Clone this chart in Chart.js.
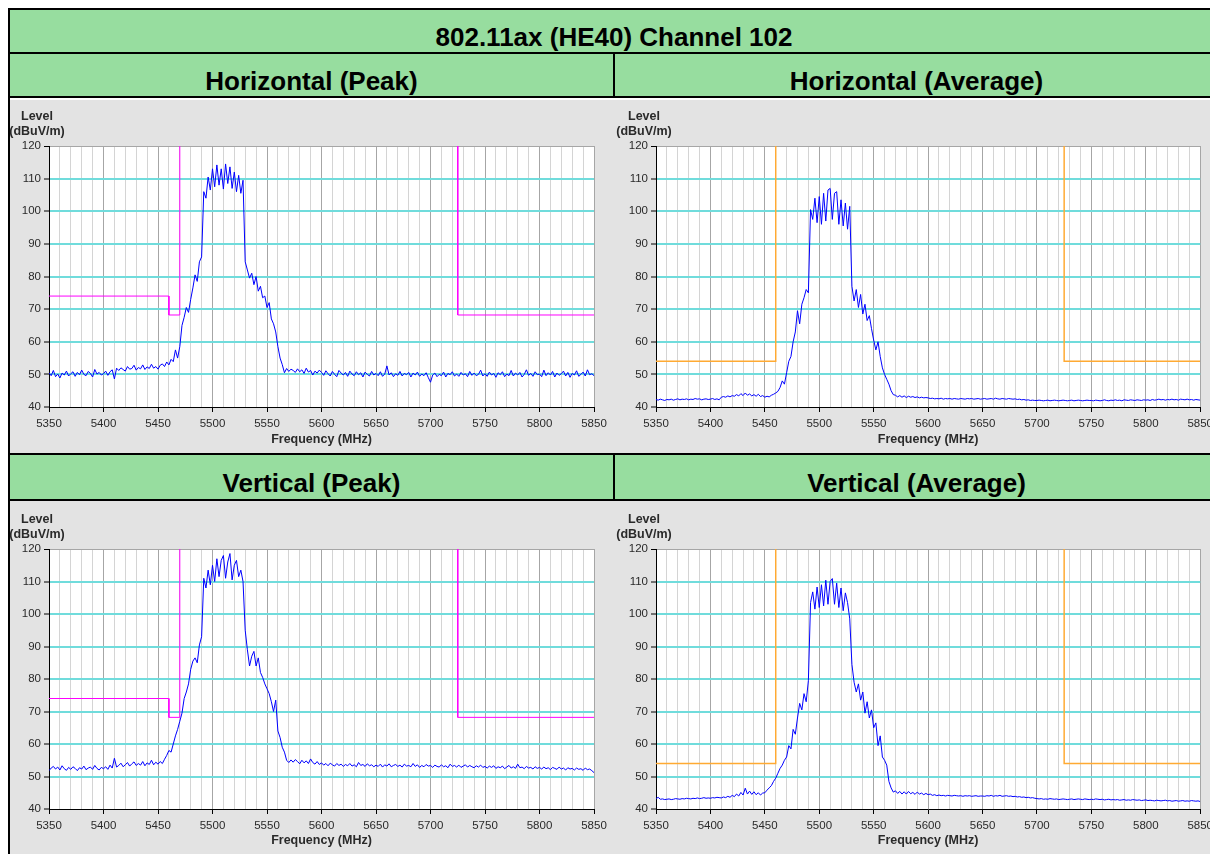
<!DOCTYPE html>
<html>
<head>
<meta charset="utf-8">
<title>802.11ax (HE40) Channel 102</title>
<script src="https://cdn.jsdelivr.net/npm/chart.js@4.4.1/dist/chart.umd.min.js"></script>
<style>
    body {
        margin: 0;
        width: 1210px;
        height: 854px;
        overflow: hidden;
        position: relative;
        background: #fff;
        font-family: "Liberation Sans", Arial, sans-serif;
    }
    .cell {
        position: absolute;
        box-sizing: border-box;
        border: 2px solid #000;
        background: #97dd9f;
        display: flex;
        align-items: center;
        justify-content: center;
        padding-top: 12px;
        font-weight: bold;
        font-size: 26px;
        color: #000;
    }
    .plot {
        position: absolute;
        background: #e3e3e3;
    }
    .plot canvas { display: block; }
    .edge {
        position: absolute;
        background: #000;
    }
</style>
</head>
<body>

<div class="cell" style="left:8px; top:8px; width:1212px; height:46px;">802.11ax (HE40) Channel 102</div>
<div class="cell" style="left:8px; top:52px; width:607px; height:46px;">Horizontal (Peak)</div>
<div class="cell" style="left:613px; top:52px; width:607px; height:46px;">Horizontal (Average)</div>
<div class="plot" style="left:10px; top:100px; width:605px; height:353px;"><canvas id="hPeakChart" width="605" height="353"></canvas></div>
<div class="plot" style="left:615px; top:100px; width:603px; height:353px;"><canvas id="hAvgChart" width="603" height="353"></canvas></div>
<div class="cell" style="left:8px; top:453px; width:607px; height:48px;">Vertical (Peak)</div>
<div class="cell" style="left:613px; top:453px; width:607px; height:48px;">Vertical (Average)</div>
<div class="plot" style="left:10px; top:501px; width:605px; height:353px;"><canvas id="vPeakChart" width="605" height="353"></canvas></div>
<div class="plot" style="left:615px; top:501px; width:603px; height:353px;"><canvas id="vAvgChart" width="603" height="353"></canvas></div>
<div class="edge" style="left:8px; top:8px; width:2px; height:846px;"></div>

<script>
    // Sweep: 5350 - 5850 MHz, one reading every 2 MHz
    const sweepStart = 5350;
    const sweepStep = 2;

    const freqMin = 5350, freqMax = 5850, freqGridStep = 10, freqLabelStep = 50;
    const levelMin = 40, levelMax = 120, levelStep = 10;

    // Horizontal, peak detector (dBuV/m)
    const hPeakLevel = [
        50.5, 49.6, 51.2, 49.3, 50.1, 48.9, 50.4, 49.8, 51.0, 49.5, 50.2, 50.8, 49.4, 50.6, 49.9, 51.3, 50.0, 49.6, 50.9, 50.3, 49.2, 51.5, 50.1, 50.6, 49.8,
        50.2, 51.0, 49.7, 50.8, 51.4, 48.6, 51.9, 51.2, 52.0, 51.5, 51.0, 52.4, 51.6, 51.8, 52.8, 51.3, 52.1, 51.7, 52.9, 51.5, 52.3, 51.8, 53.1, 51.9, 52.4,
        51.6, 52.8, 53.2, 52.4, 53.8, 52.9, 54.6, 53.9, 57.5, 55.0, 58.5, 65.0, 67.5, 70.5, 69.0, 73.0, 76.5, 80.5, 78.5, 84.5, 86.0, 106.0, 104.0, 110.5, 106.5,
        113.0, 107.5, 114.2, 108.0, 113.0, 106.8, 114.5, 108.5, 113.6, 107.0, 112.0, 106.0, 111.0, 105.5, 109.5, 84.5, 82.0, 79.5, 81.0, 77.5, 80.0, 75.5, 77.0, 73.5, 74.0,
        70.5, 72.0, 67.0, 65.5, 63.0, 58.5, 55.0, 53.0, 50.5, 51.8, 50.9, 51.6, 51.2, 50.6, 51.7, 50.8, 51.4, 50.3, 51.9, 50.7, 51.2, 49.8, 51.0, 50.4, 51.3,
        50.6, 49.7, 51.1, 50.2, 49.5, 50.9, 50.0, 49.3, 51.2, 50.4, 49.8, 50.6, 49.4, 51.0, 50.1, 49.6, 50.8, 49.9, 50.5, 49.2, 50.7, 50.0, 49.5, 50.9, 49.8,
        50.3, 49.6, 50.8, 49.4, 50.1, 52.6, 49.8, 50.5, 49.3, 50.2, 49.7, 50.9, 49.5, 50.3, 49.9, 50.6, 49.2, 50.4, 49.8, 50.7, 49.4, 50.1, 49.6, 50.5, 49.0,
        47.6, 49.8, 50.4, 49.3, 50.0, 49.6, 50.7, 49.2, 50.3, 49.9, 50.8, 49.5, 50.1, 49.4, 50.6, 49.8, 50.2, 49.3, 50.9, 49.7, 50.4, 49.6, 50.0, 51.3, 49.5,
        50.2, 49.4, 50.7, 49.8, 50.3, 49.1, 50.5, 49.9, 50.8, 49.3, 50.1, 49.6, 51.2, 49.5, 50.4, 49.8, 50.6, 49.2, 50.0, 51.4, 49.7, 50.3, 49.4, 50.8, 49.9,
        50.1, 49.3, 51.3, 49.6, 50.5, 49.8, 50.9, 49.2, 50.4, 49.7, 50.2, 51.0, 49.5, 50.6, 49.1, 50.3, 49.8, 51.1, 49.4, 50.0, 50.7, 49.5, 51.4, 49.9, 50.2, 49.6
    ];

    // Horizontal, average detector (dBuV/m)
    const hAvgLevel = [
        42.3, 42.1, 42.4, 42.2, 42.0, 42.3, 42.2, 42.4, 42.1, 42.3, 42.5, 42.2, 42.4, 42.3, 42.5, 42.2, 42.4, 42.3, 42.6, 42.4, 42.5, 42.2, 42.4, 42.5, 42.3,
        42.4, 42.6, 42.3, 42.5, 42.2, 43.0, 43.2, 43.0, 43.4, 43.1, 43.5, 43.3, 43.8, 43.4, 44.1, 43.5, 44.3, 43.6, 44.0, 43.4, 43.8, 43.3, 43.9, 43.2, 43.5,
        43.0, 43.3, 43.1, 43.6, 43.9, 44.3, 44.8, 46.0, 48.0, 47.0, 50.5, 54.0, 55.5, 60.0, 63.0, 69.5, 65.5, 71.5, 73.5, 76.0, 75.0, 100.5, 97.5, 104.0, 96.5,
        104.5, 96.0, 105.5, 97.0, 106.5, 107.0, 97.5, 105.5, 106.0, 96.0, 103.5, 95.5, 102.5, 94.5, 101.5, 77.0, 72.5, 76.0, 70.5, 74.5, 68.5, 71.5, 66.5, 68.0, 64.0,
        60.5, 57.5, 60.0, 55.5, 52.0, 50.0, 48.5, 47.0, 45.0, 43.8, 43.6, 43.1, 43.5, 43.0, 43.4, 42.9, 43.3, 43.0, 43.2, 42.9, 43.1, 42.8, 43.0, 42.8, 42.9,
        42.8, 42.6, 42.7, 42.5, 42.6, 42.5, 42.7, 42.4, 42.6, 42.5, 42.6, 42.4, 42.6, 42.5, 42.4, 42.6, 42.5, 42.4, 42.6, 42.5, 42.6, 42.4, 42.5, 42.6, 42.4,
        42.5, 42.6, 42.4, 42.5, 42.6, 42.4, 42.7, 42.5, 42.4, 42.6, 42.5, 42.4, 42.6, 42.5, 42.4, 42.5, 42.3, 42.4, 42.2, 42.3, 42.1, 42.2, 42.0, 42.1, 42.0,
        42.0, 42.1, 42.0, 41.9, 42.0, 42.1, 41.9, 42.0, 42.1, 42.0, 41.9, 42.0, 42.1, 42.0, 41.9, 42.0, 42.1, 41.9, 42.0, 42.1, 42.0, 41.9, 42.0, 42.1, 42.0,
        42.0, 41.9, 42.1, 42.0, 41.9, 42.0, 42.2, 42.0, 41.9, 42.1, 42.0, 42.2, 42.0, 42.1, 41.9, 42.2, 42.1, 42.0, 42.2, 42.1, 42.0, 42.2, 42.1, 42.0, 42.2,
        42.1, 42.2, 42.0, 42.3, 42.1, 42.2, 42.4, 42.2, 42.3, 42.1, 42.3, 42.2, 42.4, 42.2, 42.3, 42.1, 42.4, 42.3, 42.2, 42.4, 42.2, 42.3, 42.1, 42.3, 42.2, 42.1
    ];

    // Vertical, peak detector (dBuV/m)
    const vPeakLevel = [
        51.8, 52.6, 53.1, 52.3, 52.9, 52.0, 53.3, 52.4, 51.9, 52.8, 52.2, 53.0, 52.5, 51.8, 52.7, 52.3, 53.2, 52.1, 52.6, 52.9, 52.2, 53.4, 52.5, 52.0, 52.8,
        52.4, 53.0, 52.2, 53.5, 52.6, 55.6, 52.9, 53.4, 54.1, 53.0, 53.6, 54.3, 53.2, 53.9, 54.5, 53.4, 54.0, 53.5, 54.6, 53.3, 54.2, 53.7, 55.0, 53.6, 54.4,
        53.8, 54.6, 54.0, 55.3, 56.5, 58.0, 57.5, 60.0, 62.5, 64.5, 67.0, 69.5, 74.0, 76.0, 78.5, 83.0, 85.5, 86.5, 85.0, 90.5, 93.0, 111.0, 108.0, 113.5, 109.0,
        115.0, 110.0, 117.0, 111.5, 116.5, 118.0, 111.0, 116.0, 118.6, 110.5, 115.0, 116.5, 111.5, 113.5, 110.0, 95.0, 89.0, 84.0, 87.0, 88.5, 84.0, 86.5, 82.0, 80.5, 78.5,
        77.0, 75.5, 73.0, 70.0, 73.5, 64.0, 62.0, 59.0, 57.5, 55.0, 54.3, 55.1, 54.4, 55.2, 54.6, 53.9, 55.0, 54.2, 54.8, 54.0, 55.4, 54.3, 53.8, 54.6, 53.7,
        54.2, 53.5, 54.0, 53.3, 54.1, 53.6, 53.2, 54.0, 53.4, 53.8, 53.1, 53.7, 53.3, 54.0, 53.2, 53.6, 53.0, 54.3, 53.4, 53.7, 53.1, 53.9, 53.3, 53.6, 53.0,
        53.5, 53.1, 53.8, 52.9, 53.6, 53.2, 53.9, 53.0, 53.4, 53.7, 53.1, 53.5, 52.9, 53.8, 53.2, 53.4, 53.0, 54.0, 53.1, 53.6, 52.8, 53.4, 53.0, 53.7, 53.2,
        53.4, 52.8, 53.5, 53.1, 52.9, 53.6, 53.0, 53.3, 52.7, 53.8, 53.1, 53.4, 52.9, 53.5, 52.8, 53.2, 53.6, 52.9, 53.4, 53.0, 52.7, 53.3, 52.9, 53.5, 52.8,
        53.1, 52.6, 53.2, 52.8, 53.3, 52.5, 53.0, 52.7, 53.2, 52.4, 52.9, 53.4, 52.6, 53.0, 52.5, 53.8, 52.7, 52.9, 52.4, 53.1, 52.6, 52.8, 52.3, 53.0, 52.5,
        52.8, 52.3, 52.9, 52.4, 52.7, 52.1, 52.8, 52.5, 52.2, 52.9, 52.3, 52.6, 52.0, 52.7, 52.3, 52.5, 52.0, 52.6, 52.2, 52.4, 51.9, 52.6, 52.1, 52.3, 51.8, 51.2
    ];

    // Vertical, average detector (dBuV/m)
    const vAvgLevel = [
        43.2, 43.6, 43.0, 43.1, 42.9, 43.0, 43.1, 42.9, 43.0, 43.2, 43.1, 43.0, 43.2, 43.1, 43.3, 43.2, 43.1, 43.3, 43.2, 43.4, 43.2, 43.3, 43.5, 43.3, 43.4,
        43.3, 43.5, 43.4, 43.6, 43.5, 43.4, 43.7, 43.5, 43.9, 43.6, 44.2, 43.8, 44.6, 44.0, 45.1, 44.3, 46.4, 44.6, 45.5, 44.5, 45.3, 44.4, 45.0, 44.3, 44.9,
        45.0, 45.8, 46.5, 47.2, 48.5, 49.5, 51.0, 52.5, 53.5, 55.0, 56.0, 59.5, 58.5, 64.5, 63.0, 68.0, 72.5, 70.5, 75.5, 73.0, 79.5, 103.5, 106.8, 101.5, 108.3,
        102.0, 109.0, 102.5, 110.4, 103.0, 110.0, 110.9, 103.0, 109.5, 102.0, 108.0, 101.0, 106.5, 103.5, 98.5, 84.5, 79.0, 76.0, 78.5, 73.5, 76.0, 69.5, 73.0, 68.0, 70.5,
        65.0, 66.5, 59.5, 62.5, 56.0, 55.0, 53.5, 48.5, 46.5, 45.2, 45.6, 44.8, 45.4, 44.6, 45.3, 44.6, 45.4, 44.7, 45.1, 44.5, 45.2, 44.6, 44.9, 44.4, 44.8,
        44.4, 44.6, 44.2, 44.4, 44.1, 44.3, 44.1, 44.2, 44.0, 44.2, 44.1, 44.0, 44.2, 44.1, 44.0, 44.1, 43.9, 44.1, 44.0, 44.1, 43.9, 44.0, 44.1, 43.9, 44.0,
        44.0, 43.9, 44.1, 44.0, 44.2, 43.9, 44.1, 44.0, 44.2, 43.9, 44.0, 44.1, 43.9, 44.0, 43.8, 43.9, 43.7, 43.8, 43.6, 43.7, 43.5, 43.6, 43.4, 43.5, 43.3,
        43.2, 43.1, 43.2, 43.0, 43.1, 43.0, 43.2, 43.1, 43.0, 43.1, 42.9, 43.0, 43.1, 43.0, 42.9, 43.0, 43.1, 42.9, 43.0, 43.1, 43.0, 42.9, 43.1, 43.0, 42.9,
        43.0, 42.9, 43.1, 43.0, 42.9, 43.0, 42.8, 42.9, 43.0, 42.8, 42.9, 42.8, 42.9, 42.7, 42.8, 42.9, 42.7, 42.8, 42.7, 42.9, 42.8, 42.7, 42.8, 42.6, 42.7,
        42.8, 42.6, 42.7, 42.6, 42.5, 42.7, 42.6, 42.5, 42.6, 42.7, 42.5, 42.6, 42.4, 42.5, 42.6, 42.4, 42.5, 42.6, 42.4, 42.5, 42.4, 42.6, 42.5, 42.4, 42.5, 42.3
    ];

    // Limit lines (null = break in the line)
    const peakLimitFreq  = [5350, 5460, 5460, 5470, 5470, null, 5725, 5725, 5850];
    const peakLimitLevel = [74, 74, 68.2, 68.2, 120, null, 120, 68.2, 68.2];
    const avgLimitFreq   = [5350, 5460, 5460, null, 5725, 5725, 5850];
    const avgLimitLevel  = [54, 54, 120, null, 120, 54, 54];

    const fontFamily = '"Liberation Sans", Arial, sans-serif';
    const textColor = '#2a2a2a';

    function toPoints(levels) {
        return levels.map((v, i) => ({ x: sweepStart + i * sweepStep, y: v }));
    }

    function pairPoints(xs, ys) {
        return xs.map((x, i) => ({ x: x, y: ys[i] }));
    }

    // White plot area on the grey panel
    const plotBackground = {
        id: 'plotBackground',
        beforeDraw(chart) {
            const { ctx, chartArea } = chart;
            ctx.save();
            ctx.fillStyle = '#ffffff';
            ctx.fillRect(chartArea.left, chartArea.top, chartArea.right - chartArea.left, chartArea.bottom - chartArea.top);
            ctx.restore();
        }
    };

    // "Level (dBuV/m)" caption above the y axis
    const levelCaption = {
        id: 'levelCaption',
        afterDraw(chart) {
            const { ctx, chartArea } = chart;
            ctx.save();
            ctx.font = 'bold 12.5px ' + fontFamily;
            ctx.fillStyle = textColor;
            ctx.textAlign = 'center';
            ctx.textBaseline = 'middle';
            const cx = chartArea.left - 12;
            ctx.fillText('Level', cx, chartArea.top - 29);
            ctx.fillText('(dBuV/m)', cx, chartArea.top - 14);
            ctx.restore();
        }
    };

    function drawSpectrum(canvasId, levels, limitFreq, limitLevel, limitColor, limitWidth, box) {
        new Chart(document.getElementById(canvasId), {
            type: 'line',
            data: {
                datasets: [
                    {
                        data: toPoints(levels),
                        borderColor: '#0000ff',
                        borderWidth: 1,
                        pointRadius: 0,
                        tension: 0,
                        fill: false
                    },
                    {
                        data: pairPoints(limitFreq, limitLevel),
                        borderColor: limitColor,
                        borderWidth: limitWidth,
                        pointRadius: 0,
                        tension: 0,
                        fill: false,
                        spanGaps: false
                    }
                ]
            },
            options: {
                responsive: false,
                animation: false,
                devicePixelRatio: 1,
                events: [],
                layout: {
                    padding: { top: box.padTop, right: box.padRight, left: 0, bottom: 0 }
                },
                plugins: {
                    legend: { display: false },
                    tooltip: { enabled: false }
                },
                scales: {
                    x: {
                        type: 'linear',
                        min: freqMin,
                        max: freqMax,
                        afterFit: function(scale) { scale.height = box.axisH; },
                        ticks: {
                            stepSize: freqGridStep,
                            autoSkip: false,
                            maxRotation: 0,
                            padding: 5,
                            color: textColor,
                            font: { family: fontFamily, size: 11.5 },
                            callback: v => (v % freqLabelStep === 0 ? v : '')
                        },
                        grid: {
                            color: ctx => (ctx.tick && ctx.tick.value % freqLabelStep === 0 ? '#a6a6a6' : '#d4d4d4'),
                            lineWidth: 1,
                            tickLength: 5,
                            tickWidth: 1,
                            tickColor: ctx => (ctx.tick && ctx.tick.value % freqLabelStep === 0 ? '#000' : 'rgba(0,0,0,0)')
                        },
                        border: { color: '#000', width: 1 },
                        title: {
                            display: true,
                            text: 'Frequency (MHz)',
                            color: textColor,
                            font: { family: fontFamily, size: 12.5, weight: 'bold' },
                            padding: { top: 0, bottom: 6 }
                        }
                    },
                    y: {
                        min: levelMin,
                        max: levelMax,
                        afterFit: function(scale) { scale.width = box.axisW; },
                        ticks: {
                            stepSize: levelStep,
                            padding: 3,
                            color: textColor,
                            font: { family: fontFamily, size: 11.5 }
                        },
                        grid: {
                            color: ctx => {
                                const v = ctx.tick ? ctx.tick.value : 0;
                                if (v === levelMax) return '#a6a6a6';
                                if (v === levelMin) return 'rgba(0,0,0,0)';
                                return '#70dcdc';
                            },
                            lineWidth: ctx => (ctx.tick && ctx.tick.value === levelMax ? 1 : 2),
                            tickLength: 5,
                            tickWidth: 1,
                            tickColor: '#000'
                        },
                        border: { color: '#000', width: 1 }
                    }
                }
            },
            plugins: [plotBackground, levelCaption]
        });
    }

    drawSpectrum('hPeakChart', hPeakLevel, peakLimitFreq, peakLimitLevel, '#ff00ff', 1,
        { axisW: 39, axisH: 46, padTop: 46, padRight: 21 });
    drawSpectrum('hAvgChart', hAvgLevel, avgLimitFreq, avgLimitLevel, '#ffaa33', 1.5,
        { axisW: 41, axisH: 46, padTop: 46, padRight: 17 });
    drawSpectrum('vPeakChart', vPeakLevel, peakLimitFreq, peakLimitLevel, '#ff00ff', 1,
        { axisW: 39, axisH: 45, padTop: 48, padRight: 21 });
    drawSpectrum('vAvgChart', vAvgLevel, avgLimitFreq, avgLimitLevel, '#ffaa33', 1.5,
        { axisW: 41, axisH: 45, padTop: 48, padRight: 17 });
</script>
</body>
</html>
